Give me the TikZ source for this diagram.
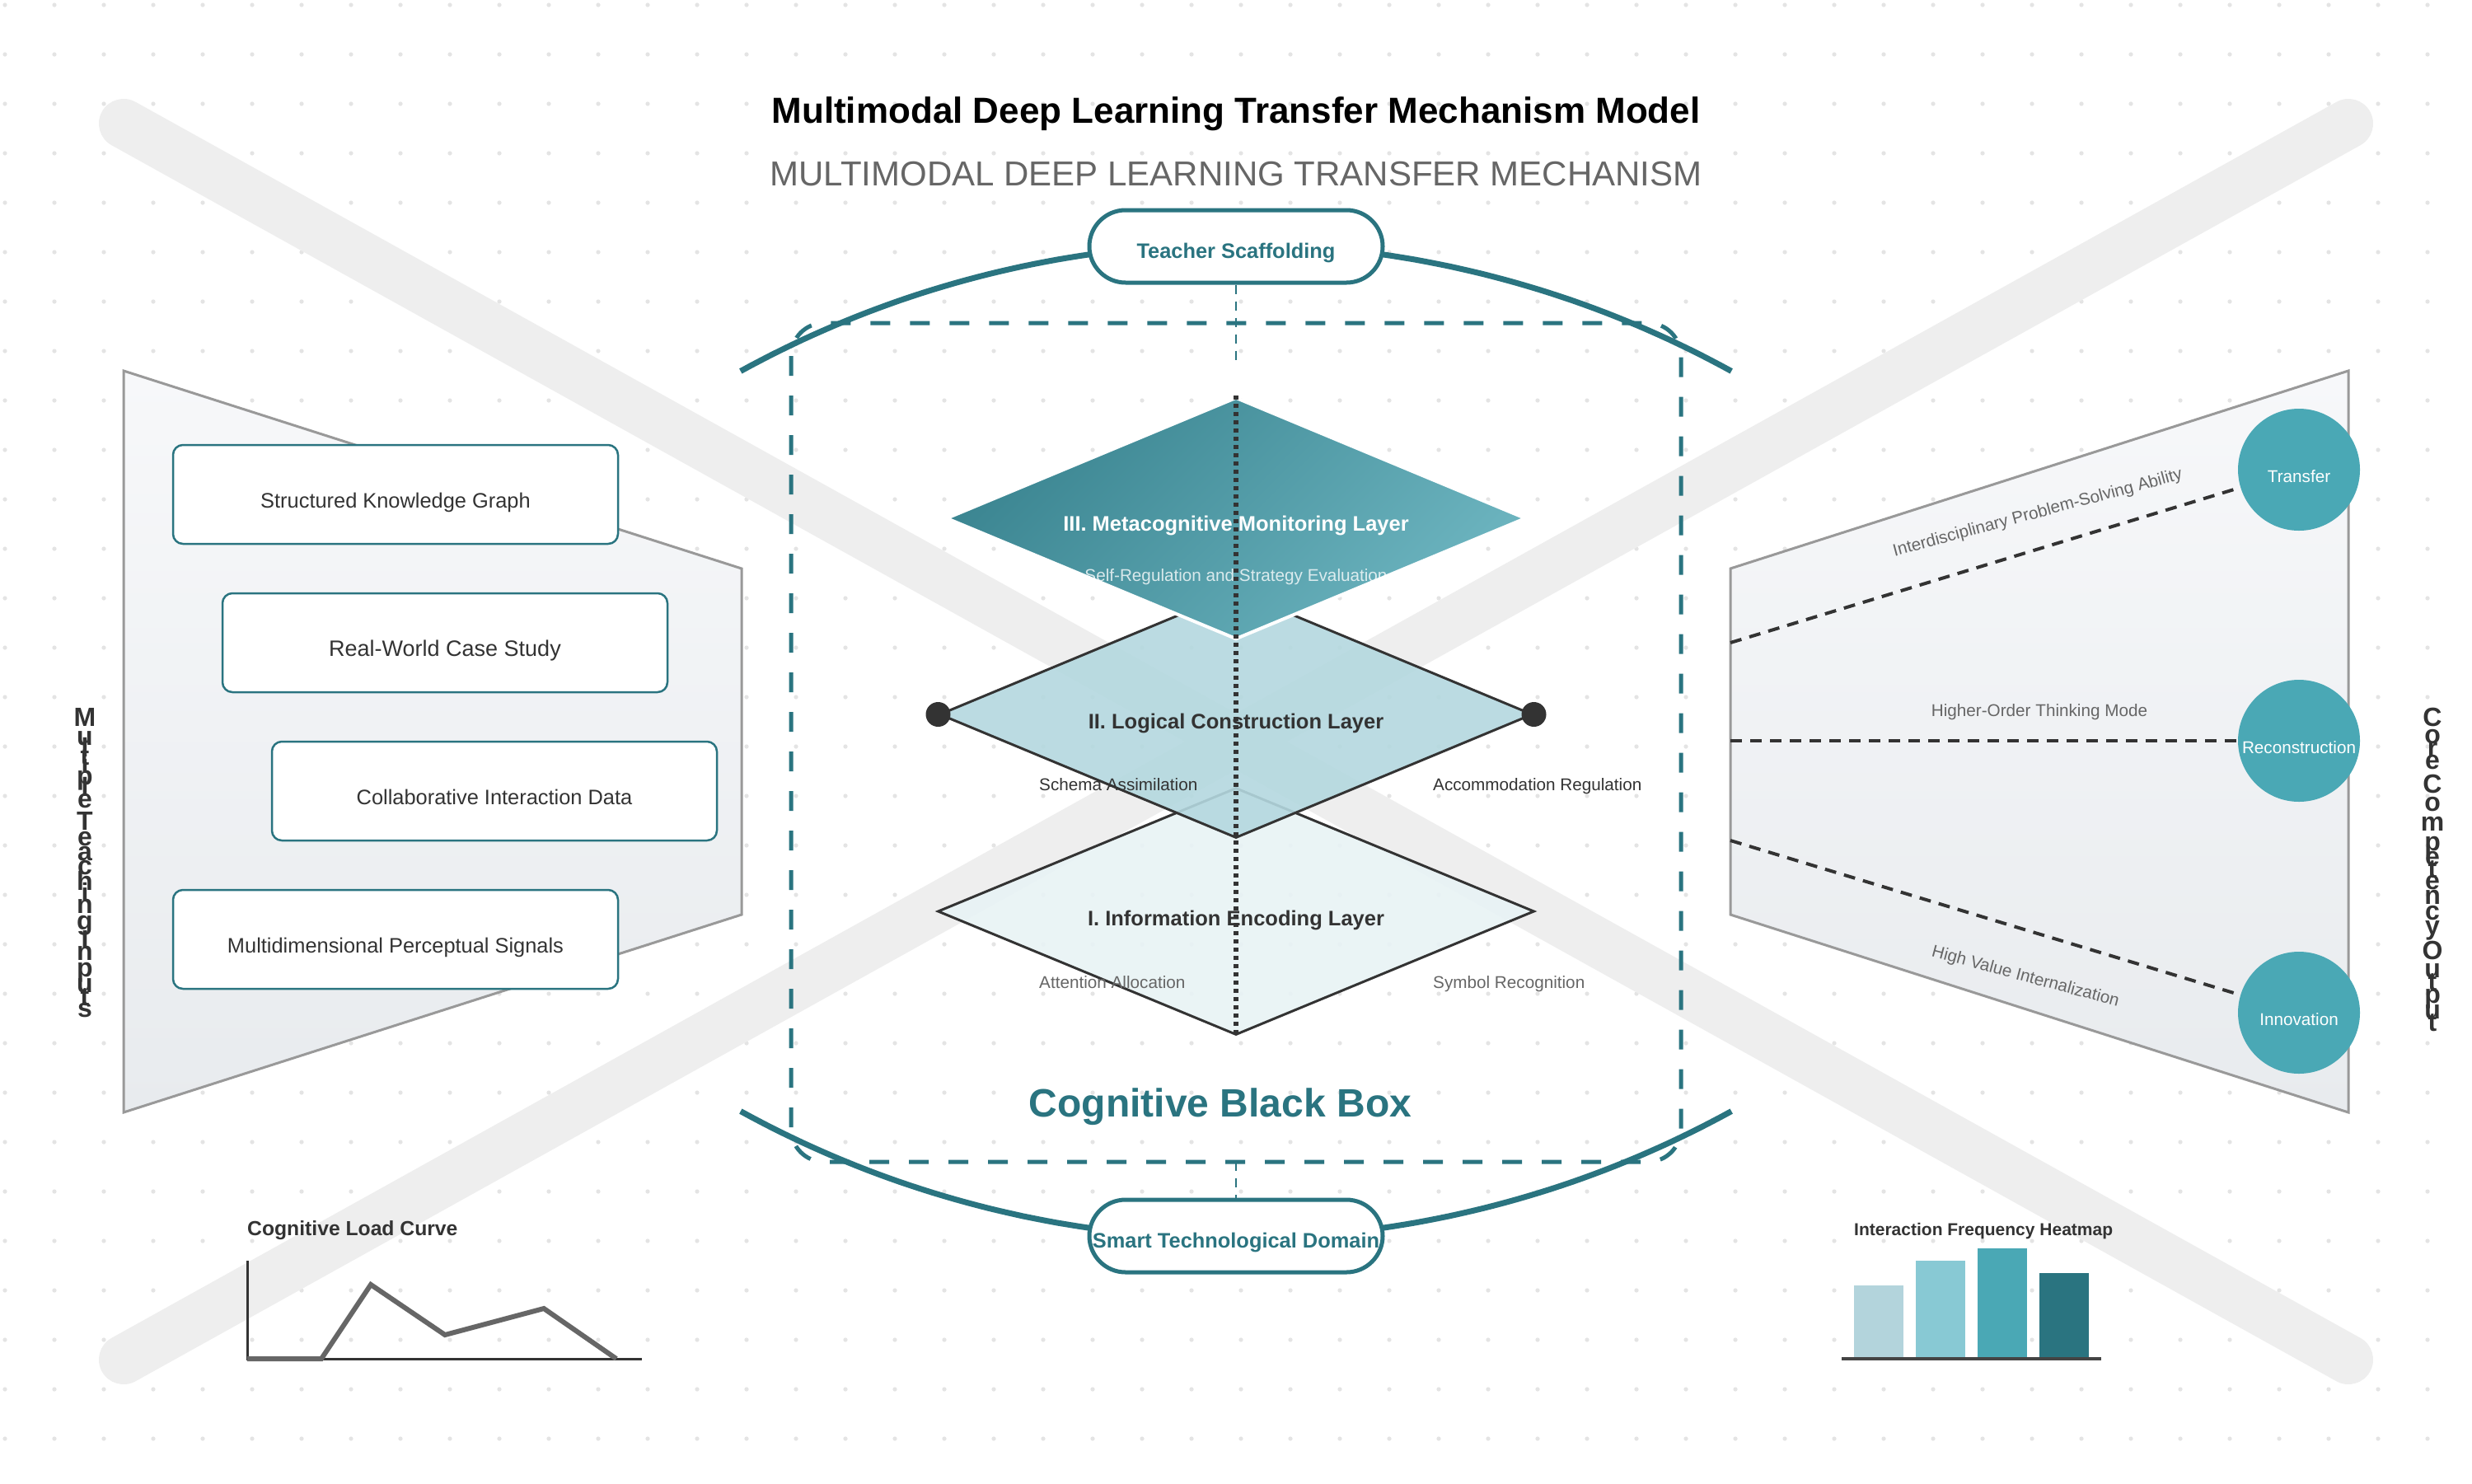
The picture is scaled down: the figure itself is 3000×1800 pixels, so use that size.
\documentclass[tikz,border=0pt]{standalone}
\usepackage{fontspec}
\setmainfont{Liberation Sans}
\usetikzlibrary{shapes.geometric,calc}
\definecolor{teal1}{HTML}{2A7480}
\definecolor{teal2}{HTML}{4AA8B5}
\definecolor{teal3}{HTML}{88C9D4}
\definecolor{teal4}{HTML}{B3D4DC}
\definecolor{dk}{HTML}{333333}
\definecolor{gr}{HTML}{666666}
\definecolor{axc}{HTML}{444444}
\definecolor{bandc}{HTML}{EEEEEE}
\definecolor{dotc}{HTML}{E4E4E4}
\definecolor{panelE}{HTML}{999999}
\definecolor{pTop}{HTML}{F7F8FA}
\definecolor{pBot}{HTML}{E8EBEE}
\definecolor{dIIf}{HTML}{B4D8DF}
\definecolor{dIf}{HTML}{E8F3F5}
\definecolor{dIIIa}{HTML}{3B8591}
\definecolor{dIIIb}{HTML}{6CB4BF}
\newcommand{\myfs}[1]{\fontsize{#1pt}{#1pt}\selectfont}
\tikzset{
 inbox/.style={draw=teal1, line width=2.5pt, fill=white, rounded corners=12pt, minimum width=540pt, minimum height=120pt, inner sep=0pt, font=\myfs{25.4}, text=dk, text height=32pt, text depth=0pt},
 pill/.style={draw=teal1, line width=5pt, fill=white, rounded corners=44pt, minimum width=356pt, minimum height=88pt, inner sep=0pt, font=\bfseries\myfs{25.4}, text=teal1, text height=29pt, text depth=0pt},
 outc/.style={circle, fill=teal2, minimum size=148pt, inner sep=0pt, text=white, font=\myfs{20.7}, text height=31pt, text depth=0pt},
 conn/.style={draw=dk, line width=4pt, dash pattern=on 14pt off 10pt},
 lbl/.style={text=gr, font=\myfs{20.7}, inner sep=0pt},
 vlet/.style={anchor=base, inner sep=0pt, font=\bfseries\myfs{32}, text=dk},
 layt/.style={anchor=base, inner sep=0pt, font=\bfseries\myfs{25.5}},
 subt/.style={anchor=base west, inner sep=0pt, font=\myfs{20.7}},
 xband/.style={line width=60pt, line cap=round, draw=bandc},
 panel/.style={draw=panelE, line width=3pt, top color=pTop, bottom color=pBot},
 thindash/.style={draw=teal1, line width=2.2pt, dash pattern=on 11pt off 9pt},
 ctitle/.style={anchor=base west, inner sep=0pt, text=dk},
}
\begin{document}
\begin{tikzpicture}[x=1pt,y=-1pt]
\useasboundingbox (0,0) rectangle (3000,1800);
\fill[white] (0,0) rectangle (3000,1800);
% dot grid
\foreach \i in {0,...,49} {\foreach \j in {0,...,29} {\fill[dotc] ({6+60*\i},{6+60*\j}) circle (2.6pt);}}
% big X
\draw[xband] (150,150) -- (2850,1650);
\draw[xband] (2850,150) -- (150,1650);
% panels
\path[panel] (150,450) -- (900,690) -- (900,1110) -- (150,1350) -- cycle;
\path[panel] (2100,690) -- (2850,450) -- (2850,1350) -- (2100,1110) -- cycle;
% input boxes
\node[inbox] (b1) at (480,600) {Structured Knowledge Graph};
\node[inbox, font=\myfs{27}] (b2) at (540,780) {Real-World Case Study};
\node[inbox] (b3) at (600,960) {Collaborative Interaction Data};
\node[inbox] (b4) at (480,1140) {Multidimensional Perceptual Signals};
% output circles
\node[outc] (c1) at (2790,570) {Transfer};
\node[outc] (c2) at (2790,899) {Reconstruction};
\node[outc] (c3) at (2790,1229) {Innovation};
\coordinate (p1) at (2100,780);
\coordinate (p2) at (2100,899);
\coordinate (p3) at (2100,1020);
\draw[conn] (p1) -- (c1);
\draw[conn] (p2) -- (c2);
\draw[conn] (p3) -- (c3);
\node[lbl, rotate=15] (l1) at (2473,623) {Interdisciplinary Problem-Solving Ability};
\node[lbl, anchor=base] (l2) at (2475,869) {Higher-Order Thinking Mode};
\node[lbl, rotate=-15] (l3) at (2458,1186) {High Value Internalization};
% cognitive black box frame
\draw[teal1, line width=5pt, dash pattern=on 24pt off 24pt, rounded corners=40pt] (960,392) rectangle (2040,1410);
\draw[teal1, line width=7pt] plot[domain=-118.8:-61.2, samples=90] ({1500+1248*cos(\x)},{1544+1248*sin(\x)});
\draw[teal1, line width=7pt] plot[domain=61.2:118.8, samples=90] ({1500+1248*cos(\x)},{255+1248*sin(\x)});
\node[pill] (pillT) at (1500,299) {Teacher Scaffolding};
\node[pill] (pillB) at (1500,1500) {Smart Technological Domain};
\coordinate (tsEnd) at (1500,445);
\coordinate (bsStart) at (1500,1410);
\draw[thindash] (pillT.south) -- (tsEnd);
\draw[thindash] (bsStart) -- (pillB.north);
% layers
\node[diamond, minimum width=724pt, minimum height=300pt, inner sep=0pt, draw=dk, line width=3pt, fill=dIf, fill opacity=0.9] (d1) at (1500,1106) {};
\node[diamond, minimum width=720pt, minimum height=300pt, inner sep=0pt, draw=dk, line width=3pt, fill=dIIf, fill opacity=0.9] (d2) at (1500,867) {};
\node[diamond, minimum width=704pt, minimum height=294pt, inner sep=0pt, draw=white, line width=4pt, top color=dIIIa, bottom color=dIIIb, shading angle=45] (d3) at (1500,629) {};
\node[circle, fill=dk, minimum size=30pt, inner sep=0pt] (dotL) at (d2.west) {};
\node[circle, fill=dk, minimum size=30pt, inner sep=0pt] (dotR) at (d2.east) {};
\node[layt, text=white] (t3) at (1500,644) {III. Metacognitive Monitoring Layer};
\node[subt, anchor=base, text=white, text opacity=0.78] (s3) at (1500,705) {Self-Regulation and Strategy Evaluation};
\node[layt, text=dk] (t2) at (1500,884) {II. Logical Construction Layer};
\node[subt, text=dk] (s2a) at (1261,959) {Schema Assimilation};
\node[subt, text=dk] (s2b) at (1739,959) {Accommodation Regulation};
\node[layt, text=dk] (t1) at (1500,1123) {I. Information Encoding Layer};
\node[subt, text=gr] (s1a) at (1261,1199) {Attention Allocation};
\node[subt, text=gr] (s1b) at (1739,1199) {Symbol Recognition};
\draw[dk, line width=6pt, dash pattern=on 5pt off 5pt] (d3.north) -- (d1.south);
\node[anchor=base, inner sep=0pt, font=\bfseries\myfs{48}, text=teal1] (cbb) at (1481,1355) {Cognitive Black Box};
% titles
\node[anchor=base, inner sep=0pt, font=\bfseries\myfs{44}, text=black] (title) at (1500,149) {Multimodal Deep Learning Transfer Mechanism Model};
\node[anchor=base, inner sep=0pt, font=\myfs{42}, text=gr] (subtitle) at (1500,225) {MULTIMODAL DEEP LEARNING TRANSFER MECHANISM};
% vertical side labels
\foreach \ch/\m [count=\i] in {M/0.4165,u/1.1385,l/1.583,t/1.8885,i/2.194,p/2.6385,l/3.083,e/3.5,T/4.3615,e/4.945,a/5.501,c/6.057,h/6.6405,i/7.085,n/7.5295,g/8.1405,I/8.863,n/9.3075,p/9.9185,u/10.5295,t/11.0015,s/11.446}
  {\node[vlet] (lv\i) at (103,{868+32*\m}) {\ch};}
\foreach \ch/\m [count=\i] in {C/0.361,o/1.0275,r/1.5275,e/2.0,C/2.917,o/3.5835,m/4.3335,p/5.0835,e/5.667,t/6.1115,e/6.556,n/7.1395,c/7.723,y/8.279,O/9.224,u/9.9185,t/10.3905,p/10.8625,u/11.4735,t/11.9455}
  {\node[vlet] (rv\i) at (2952,{869.5+32*\m}) {\ch};}
% cognitive load curve
\node[ctitle, font=\bfseries\myfs{24.7}] (clt) at (300,1499) {Cognitive Load Curve};
\coordinate (ax0) at (300,1530);
\coordinate (ax1) at (300,1649);
\coordinate (ax2) at (779,1649);
\draw[dk, line width=3pt] (ax0) -- (ax1) -- (ax2);
\draw[gr, line width=6pt, line join=miter] (300,1649) -- (390,1649) -- (450,1559) -- (540,1620) -- (660,1588) -- (748,1649);
% heatmap
\node[ctitle, font=\bfseries\myfs{21}] (hmt) at (2250,1499) {Interaction Frequency Heatmap};
\fill[teal4] (2250,1560) rectangle (2310,1649);
\fill[teal3] (2325,1530) rectangle (2385,1649);
\fill[teal2] (2400,1515) rectangle (2460,1649);
\fill[teal1] (2475,1545) rectangle (2535,1649);
\coordinate (hx0) at (2235,1649);
\coordinate (hx1) at (2550,1649);
\draw[axc, line width=4pt] (hx0) -- (hx1);
\end{tikzpicture}
\end{document}
